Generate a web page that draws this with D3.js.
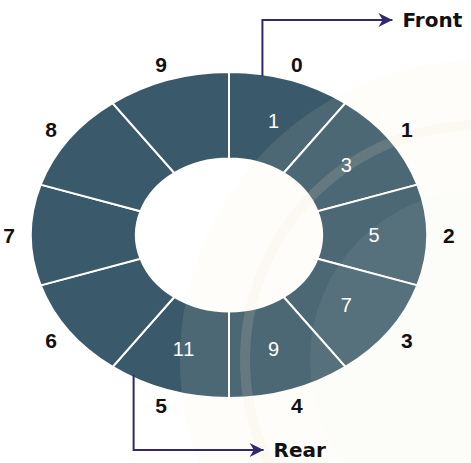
<!DOCTYPE html>
<html lang="en">
<head>
  <meta charset="UTF-8">
  <title>Circular Queue</title>
  <style>
    html, body { margin: 0; padding: 0; background: #fff; }
    svg { display: block; font-family: "Liberation Sans", Arial, sans-serif; }
    .idx { font-size: 21px; font-weight: bold; fill: #111; }
    .val { font-size: 20px; fill: #fff; letter-spacing: 1px; }
    .tag { font-family: "DejaVu Sans", Verdana, sans-serif; font-size: 20px; font-weight: bold; fill: #111; }
  </style>
</head>
<body>
  <div id="chart"></div>

  <script src="https://d3js.org/d3.v7.min.js"></script>
  <script>
    // Queue slots and their contents
    const slots = [0, 1, 2, 3, 4, 5, 6, 7, 8, 9];
    const values = [1, 3, 5, 7, 9, 11, null, null, null, null];
    const pointers = [
      { name: 'Front', slot: 0, at: 0.27 },
      { name: 'Rear', slot: 5, at: 0.8 }
    ];

    const W = 471, H = 463;
    const cx = 229, cy = 235;
    const rx = 198, ry = 163;
    const sx = rx / ry;

    const svg = d3.select('#chart')
      .append('svg')
      .attr('width', W)
      .attr('height', H);

    const angle = d3.scaleLinear()
      .domain([0, slots.length])
      .range([0, 2 * Math.PI]);

    const arc = d3.arc()
      .innerRadius(ry * 0.47)
      .outerRadius(ry)
      .startAngle(d => angle(d))
      .endAngle(d => angle(d + 1));

    // point on the stretched ellipse for a slot position and radius
    function pos(t, r) {
      const a = angle(t);
      return [cx + r * sx * Math.sin(a), cy - r * Math.cos(a)];
    }

    // ring segments
    svg.append('g')
      .attr('transform', `translate(${cx},${cy}) scale(${sx},1)`)
      .selectAll('path')
      .data(slots)
      .enter()
      .append('path')
      .attr('d', arc)
      .attr('fill', '#3a5a6b')
      .attr('stroke', '#fff')
      .attr('stroke-width', 2)
      .attr('vector-effect', 'non-scaling-stroke');

    // faint watermark seal sitting over the right side
    const wm = svg.append('g').attr('pointer-events', 'none');
    wm.append('circle')
      .attr('cx', 480).attr('cy', 360).attr('r', 300)
      .attr('fill', '#f3ecd0').attr('opacity', 0.1);
    wm.append('circle')
      .attr('cx', 480).attr('cy', 360).attr('r', 235)
      .attr('fill', 'none').attr('stroke', '#e8e2c4')
      .attr('stroke-width', 10).attr('opacity', 0.15);
    wm.append('circle')
      .attr('cx', 480).attr('cy', 360).attr('r', 170)
      .attr('fill', '#dfeee6').attr('opacity', 0.07);

    // values inside the ring
    svg.selectAll('.val')
      .data(slots.filter(i => values[i] !== null))
      .enter()
      .append('text')
      .attr('class', 'val')
      .attr('x', i => pos(i + 0.5, ry * 0.735)[0])
      .attr('y', i => pos(i + 0.5, ry * 0.735)[1])
      .attr('text-anchor', 'middle')
      .attr('dominant-baseline', 'central')
      .text(i => values[i]);

    // slot indices outside the ring
    svg.selectAll('.idx')
      .data(slots)
      .enter()
      .append('text')
      .attr('class', 'idx')
      .attr('x', i => pos(i + 0.5, 181)[0])
      .attr('y', i => pos(i + 0.5, 179)[1])
      .attr('text-anchor', 'middle')
      .attr('dominant-baseline', 'central')
      .text(i => i);

    // pointer arrows
    svg.append('defs').append('marker')
      .attr('id', 'head')
      .attr('viewBox', '0 0 10 10')
      .attr('refX', 10).attr('refY', 5)
      .attr('markerWidth', 20).attr('markerHeight', 14)
      .attr('markerUnits', 'userSpaceOnUse')
      .attr('orient', 'auto')
      .append('path')
      .attr('d', 'M0,0 L10,5 L0,10 L3,5 Z')
      .attr('fill', '#2f2a70');

    pointers.forEach(p => {
      const [x0, y0] = pos(p.slot + p.at, ry);
      const top = p.slot === 0;
      const y1 = top ? 20 : 450;
      const x1 = x0 + 130;
      svg.append('path')
        .attr('d', `M${x0},${y0 + (top ? 2 : -3)} V${y1} H${x1}`)
        .attr('fill', 'none')
        .attr('stroke', '#2f2a70')
        .attr('stroke-width', 2)
        .attr('marker-end', 'url(#head)');
      svg.append('text')
        .attr('class', 'tag')
        .attr('x', x1 + 10)
        .attr('y', y1 + 7)
        .text(p.name);
    });
  </script>
</body>
</html>
